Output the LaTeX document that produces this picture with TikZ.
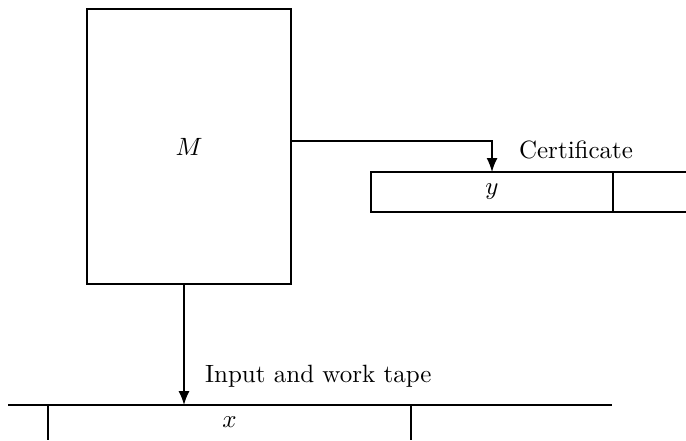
\documentclass[tikz,border=0pt]{standalone}
\usetikzlibrary{positioning, arrows.meta}

\begin{document}
\begin{tikzpicture}[x=0.4pt, y=-0.4pt, semithick]
    % Keep the page at the size of the reference
    \useasboundingbox (0,0) rectangle (686,440);

    % Draw the machine
    \node[draw, minimum width=81.6pt, minimum height=110pt, inner sep=0pt, outer sep=0pt] (machine) at (189,146.5) {$M$};

    % Draw the certificate tape (open to the right)
    \node[draw, minimum width=96.8pt, minimum height=16pt, inner sep=0pt, outer sep=0pt, anchor=north west] (cert) at (371,172) {$y$};
    \coordinate (certend) at (686,192);
    \draw (cert.north east) -- (cert.north east -| certend);
    \draw (cert.south east) -- (cert.south east -| certend);
    \node[anchor=west] (certlabel) at (510,150) {Certificate};

    % Draw the input and work tape
    \node[minimum width=145.2pt, minimum height=14pt, inner sep=0pt, outer sep=0pt, anchor=north west] (tape) at (48,405) {$x$};
    \coordinate (tapeleft) at (8,405);
    \coordinate (taperight) at (612,405);
    \draw (tapeleft) -- (taperight);
    \draw (tape.north west) -- (tape.south west);
    \draw (tape.north east) -- (tape.south east);
    \node[anchor=west] (tapelabel) at (196,376) {Input and work tape};

    % Heads of the machine on both tapes
    \draw[-{Latex[length=5.6pt, width=4.4pt]}] ([yshift=2.2pt]machine.east) -| (cert.north);
    \draw[-{Latex[length=5.6pt, width=4.4pt]}] ([xshift=-2pt]machine.south) -- ([xshift=-2pt]machine.south |- tape.north);
\end{tikzpicture}
\end{document}
